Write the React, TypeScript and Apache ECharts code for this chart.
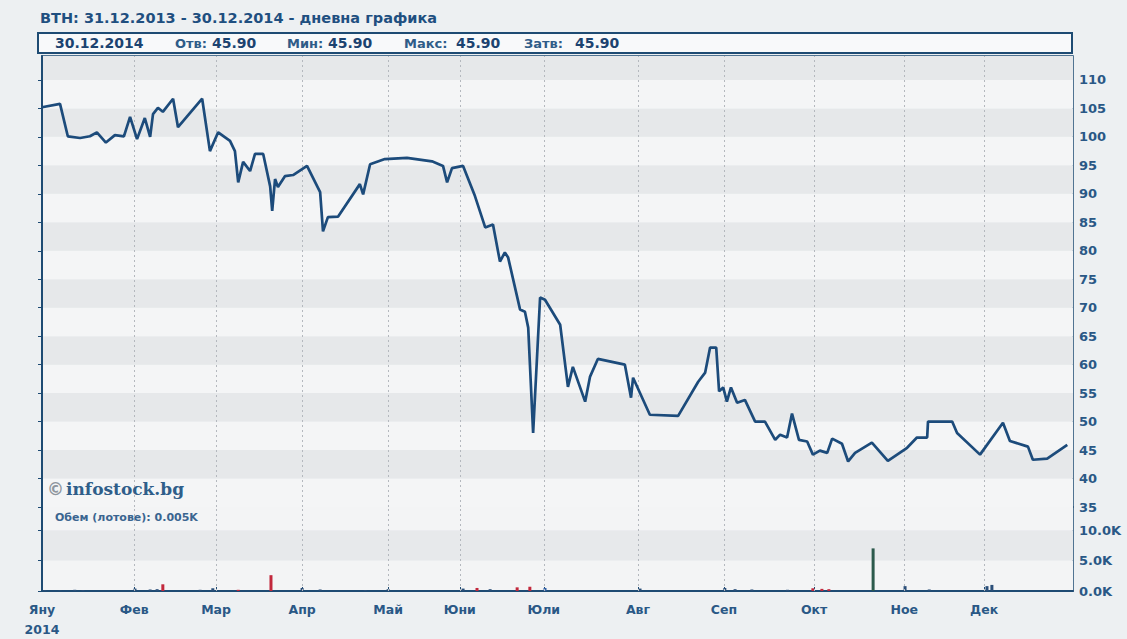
import React, { useEffect, useRef } from "react";
import * as echarts from "echarts";

// ---- data ----
// x = trading-day index through 2014
const priceDays = [0, 4.4, 6.3, 9.3, 11.7, 13.4, 15.6, 17.8, 20.0, 21.5, 23.2, 25.1, 26.4, 27.1, 28.3, 29.5, 32.0, 33.2, 39.1, 41.0, 43.0, 45.9, 47.1, 47.9, 49.1, 50.8, 52.0, 54.0, 55.7, 56.2, 56.9, 57.6, 59.3, 61.3, 64.7, 67.9, 68.6, 69.8, 72.3, 77.6, 78.4, 80.1, 83.7, 89.1, 95.2, 97.9, 98.9, 100.1, 102.8, 105.7, 108.2, 110.1, 111.8, 113.0, 113.8, 116.7, 117.9, 118.7, 119.9, 121.6, 122.8, 126.5, 128.4, 129.6, 132.6, 133.8, 135.7, 142.3, 143.8, 144.3, 148.4, 155.3, 160.2, 161.9, 163.1, 164.6, 165.3, 166.3, 167.2, 168.2, 169.7, 171.6, 174.1, 176.5, 179.0, 180.2, 181.9, 183.1, 184.8, 186.8, 188.2, 189.9, 191.7, 192.9, 195.3, 196.8, 198.5, 202.6, 206.5, 211.2, 213.6, 216.1, 216.3, 222.2, 223.4, 229.0, 234.6, 236.3, 240.7, 241.9, 245.4, 250.3];
const priceValues = [105.2, 105.8, 100.1, 99.8, 100.1, 100.8, 99.0, 100.3, 100.1, 103.5, 99.6, 103.3, 100.0, 104.0, 105.1, 104.4, 106.7, 101.7, 106.7, 97.5, 100.8, 99.3, 97.5, 92.0, 95.6, 94.0, 97.0, 97.0, 91.3, 87.0, 92.6, 91.2, 93.1, 93.3, 94.9, 90.3, 83.4, 85.9, 86.0, 91.7, 89.9, 95.2, 96.1, 96.3, 95.7, 94.9, 92.0, 94.5, 94.9, 89.6, 84.1, 84.6, 78.1, 79.7, 78.8, 69.7, 69.3, 66.5, 48.0, 71.8, 71.4, 67.0, 56.1, 59.6, 53.5, 57.9, 61.0, 60.0, 54.2, 57.7, 51.2, 51.0, 57.0, 58.6, 63.0, 63.0, 55.3, 56.0, 53.5, 56.0, 53.3, 53.8, 50.0, 50.0, 46.8, 47.7, 47.2, 51.4, 46.8, 46.5, 44.2, 44.9, 44.5, 47.0, 46.1, 43.0, 44.5, 46.3, 43.1, 45.4, 47.2, 47.2, 50.0, 50.0, 48.0, 44.2, 49.8, 46.6, 45.6, 43.3, 43.5, 45.9];

const volDays = [0.7, 4.4, 8, 10, 22.7, 26.4, 28.1, 29.5, 38.6, 41.7, 47.9, 55.9, 63.5, 67.9, 78.9, 84.5, 102.8, 106.2, 109.4, 116, 119.1, 122.8, 146, 166.7, 169.2, 173.3, 182, 188.2, 190.4, 192.1, 202.9, 210.7, 216.6, 230.7, 231.9];
const volLots = [150, 100, 200, 150, 400, 250, 300, 1100, 200, 450, 200, 2600, 500, 250, 150, 300, 400, 500, 300, 600, 700, 500, 400, 500, 300, 250, 200, 450, 350, 300, 7000, 800, 250, 800, 1000];
const volDir = ["f", "f", "f", "f", "f", "f", "f", "d", "f", "f", "d", "d", "f", "f", "f", "f", "f", "d", "f", "d", "d", "u", "f", "f", "f", "f", "f", "d", "d", "d", "g", "f", "f", "f", "f"];

const monthTicks = [0, 22.5, 42.5, 63.5, 84.5, 102, 122.5, 145.5, 166.5, 188.5, 210.5, 230];
const monthLabels = ["Яну\n2014", "Фев", "Мар", "Апр", "Май", "Юни", "Юли", "Авг", "Сеп", "Окт", "Ное", "Дек"];

const ticker = "BTH";
const periodText = "31.12.2013 - 30.12.2014";
const lastDate = "30.12.2014";
const quoteLabels = ["Отв:", "Мин:", "Макс:", "Затв:"];
const quoteValues = ["45.90", "45.90", "45.90", "45.90"];
const volumeNote = "Обем (лотове): 0.005K";

const NAVY = "#1e4b73";
const TEXT = "#2a5886";
const FONT = '"DejaVu Sans", Verdana, sans-serif';

export default function App() {
  const ref = useRef<HTMLDivElement>(null);
  useEffect(() => {
    if (!ref.current) return;
    const chart = echarts.init(ref.current, undefined, { renderer: "svg" });
    const xMax = 251.7;
    const dirColor: Record<string, string> = { f: "#2b4f79", d: "#c2283c", u: "#2f5fa8", g: "#2c5a4c" };
    const vline = {
      silent: true,
      symbol: ["none", "none"],
      label: { show: false },
      lineStyle: { color: "#b4b8be", type: [2, 3], width: 1 },
      data: monthTicks.slice(1).map((v) => ({ xAxis: v })),
    };
    const qx = [175, 287, 404, 524];
    const vx = [212, 328, 456, 575];
    const t = (x: number, y: number, text: string, font: string, fill: string) => ({
      type: "text", x, y, z: 100, zlevel: 0,
      style: { text, font, fill, verticalAlign: "middle", textVerticalAlign: "middle" },
    });
    const graphic: any[] = [
      t(40, 18, `${ticker}: ${periodText} - дневна графика`, `bold 14.5px ${FONT}`, "#1f4f80"),
      { type: "rect", z: 90, shape: { x: 38, y: 33, width: 1034, height: 20 }, style: { fill: "#f8f9fa", stroke: NAVY, lineWidth: 2 } },
      t(55, 43, lastDate, `bold 14px ${FONT}`, "#1c4370"),
      t(47, 489, "©", `bold 17px ${FONT}`, "#8f969e"),
      t(66, 489, "infostock.bg", `bold 17px "DejaVu Serif", serif`, "#2f5e8a"),
      t(55, 517, volumeNote, `bold 11px ${FONT}`, "#3a6590"),
    ];
    quoteLabels.forEach((l, i) => {
      graphic.push(t(qx[i], 43, l, `bold 13px ${FONT}`, "#2f5c88"));
      graphic.push(t(vx[i], 43, quoteValues[i], `bold 14px ${FONT}`, "#1c4370"));
    });

    chart.setOption({
      animation: false,
      backgroundColor: "#edf0f2",
      grid: [
        { left: 42, top: 56, width: 1031, height: 451, show: true, borderColor: NAVY, borderWidth: 1.5, backgroundColor: "transparent" },
        { left: 42, top: 507, width: 1031, height: 91, show: true, borderColor: NAVY, borderWidth: 1.5, backgroundColor: "transparent" },
      ],
      xAxis: [
        { type: "value", gridIndex: 0, min: 0, max: xMax, axisLine: { show: false }, axisTick: { show: false }, axisLabel: { show: false }, splitLine: { show: false } },
        {
          type: "value", gridIndex: 1, min: 0, max: xMax,
          axisLine: { show: true, lineStyle: { color: NAVY, width: 2 } },
          axisTick: { show: true, inside: true, length: 4, customValues: monthTicks, lineStyle: { color: NAVY } },
          axisLabel: {
            customValues: monthTicks,
            formatter: (v: number) => monthLabels[monthTicks.indexOf(v)] ?? "",
            color: TEXT, fontWeight: "bold", fontSize: 12.5, fontFamily: FONT, margin: 8, lineHeight: 20,
          },
          splitLine: { show: false },
        },
      ],
      yAxis: [
        {
          type: "value", gridIndex: 0, position: "right", min: 35, max: 114.2, interval: 5,
          axisLine: { show: true, lineStyle: { color: NAVY, width: 2 } },
          axisTick: { show: true, inside: true, length: 4, lineStyle: { color: NAVY } },
          axisLabel: { showMaxLabel: false, color: TEXT, fontWeight: "bold", fontSize: 13, fontFamily: FONT, margin: 6 },
          splitLine: { show: false },
          splitArea: { show: true, areaStyle: { color: ["#f4f5f6", "#e6e8ea"] } },
        },
        {
          type: "value", gridIndex: 1, position: "right", min: 0, max: 13800, interval: 5000,
          axisLine: { show: true, lineStyle: { color: NAVY, width: 2 } },
          axisTick: { show: true, inside: true, length: 4, lineStyle: { color: NAVY } },
          axisLabel: { showMaxLabel: false, formatter: (v: number) => (v / 1000).toFixed(1) + "K", color: TEXT, fontWeight: "bold", fontSize: 13, fontFamily: FONT, margin: 6 },
          splitLine: { show: false },
          splitArea: { show: true, areaStyle: { color: ["#f3f4f5", "#e7e9eb"] } },
        },
      ],
      series: [
        {
          type: "line", xAxisIndex: 0, yAxisIndex: 0,
          data: priceDays.map((d, i) => [d, priceValues[i]]),
          symbol: "none", lineStyle: { color: "#1c4b7b", width: 2.7 }, z: 5,
          markLine: vline,
        },
        {
          type: "bar", xAxisIndex: 1, yAxisIndex: 1, barWidth: 3,
          data: volDays.map((d, i) => ({ value: [d, volLots[i]], itemStyle: { color: dirColor[volDir[i]] } })),
          markLine: vline,
        },
      ],
      graphic,
    });
    return () => chart.dispose();
  }, []);
  return <div ref={ref} style={{ position: "absolute", left: 0, top: 0, width: 1127, height: 639 }} />;
}
